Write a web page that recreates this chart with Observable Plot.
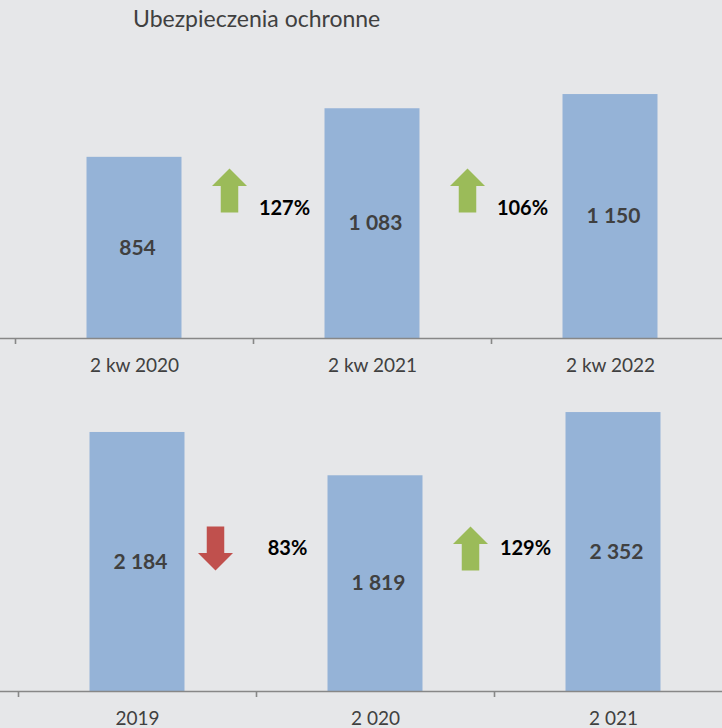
<!DOCTYPE html>
<html>
<head>
<meta charset="utf-8">
<script src="https://cdn.jsdelivr.net/npm/d3@7"></script>
<script src="https://cdn.jsdelivr.net/npm/@observablehq/plot@0.6"></script>
<style>
html, body { margin: 0; padding: 0; background: #e6e7e9; }
#wrap { position: relative; width: 722px; height: 728px; overflow: hidden; background: #e6e7e9; font-family: Lato, "Noto Sans", sans-serif; }
#title { position: absolute; left: 133px; top: 7px; font-size: 23px; line-height: 23px; color: #404040; white-space: nowrap; }
#p1 { position: absolute; left: 0; top: 40px; }
#p2 { position: absolute; left: 0; top: 385px; }
</style>
</head>
<body>
<div id="wrap">
  <div id="title"></div>
  <div id="p1"></div>
  <div id="p2"></div>
</div>
<script>
const chartTitle = "Ubezpieczenia ochronne";

const quarterLabels = ["2 kw 2020", "2 kw 2021", "2 kw 2022"];
const quarterValues = [854, 1083, 1150];
const quarterChange = [127, 106];

const yearLabels = ["2019", "2 020", "2 021"];
const yearValues = [2184, 1819, 2352];
const yearChange = [83, 129];

document.getElementById("title").textContent = chartTitle;

const fmt = d3.formatLocale({thousands: " ", grouping: [3], decimal: ",", currency: ["", ""]}).format(",d");

function arrowSymbol(dir) {
  // dir = -1 for up, 1 for down
  return {
    draw(c) {
      const H = 22, h = 17.5, W = 17.5, w = 8.75;
      const s = dir;
      c.moveTo(0, s * H);
      c.lineTo(W, s * (H - h));
      c.lineTo(w, s * (H - h));
      c.lineTo(w, -s * H);
      c.lineTo(-w, -s * H);
      c.lineTo(-w, s * (H - h));
      c.lineTo(-W, s * (H - h));
      c.closePath();
    }
  };
}

function panel({labels, values, changes, yMax, height, marginTop, marginBottom, xRange, arrowY, textY}) {
  const bars = labels.map((label, i) => ({label, value: values[i]}));
  const notes = changes.map((pct, i) => ({label: labels[i], pct, up: pct >= 100}));
  const step = (xRange[1] - xRange[0]) / labels.length;
  return Plot.plot({
    width: 722,
    height,
    marginTop,
    marginBottom,
    marginLeft: 0,
    marginRight: 0,
    style: {background: "transparent", fontFamily: "Lato, 'Noto Sans', sans-serif", overflow: "visible"},
    x: {domain: labels, range: xRange, padding: 0},
    y: {domain: [0, yMax], axis: null},
    marks: [
      Plot.barY(bars, {x: "label", y: "value", fill: "#95b3d7", insetLeft: (step - 95) / 2, insetRight: (step - 95) / 2}),
      Plot.ruleY([0], {stroke: "#878787", strokeWidth: 1.6}),
      Plot.ruleX(labels, {x: d => d, dx: -step / 2, y1: 0, y2: 0, insetBottom: -6, stroke: "#878787", strokeWidth: 1.6}),
      Plot.axisX({tickSize: 0, tickPadding: 20, fontSize: 19, fill: "#404040", label: null}),
      Plot.text(bars, {x: "label", y: d => d.value / 2, text: d => fmt(d.value), fontSize: 21, fontWeight: "bold", fill: "#404040", dx: 3}),
      Plot.dot(notes.filter(d => d.up), {x: "label", y: arrowY, symbol: arrowSymbol(-1), r: 1, fill: "#9bbb59", stroke: "none", dx: 95}),
      Plot.dot(notes.filter(d => !d.up), {x: "label", y: arrowY, symbol: arrowSymbol(1), r: 1, fill: "#c0504d", stroke: "none", dx: 78}),
      Plot.text(notes, {x: "label", y: textY, text: d => d.pct + "%", fontSize: 20, fontWeight: "bold", fill: "#000000", dx: 150})
    ]
  });
}

document.getElementById("p1").append(panel({
  labels: quarterLabels, values: quarterValues, changes: quarterChange,
  yMax: 1400, height: 345, marginTop: 1, marginBottom: 47,
  xRange: [15.2, 729.2], arrowY: 698, textY: 610
}));

document.getElementById("p2").append(panel({
  labels: yearLabels, values: yearValues, changes: yearChange,
  yMax: 2500, height: 343, marginTop: 9.5, marginBottom: 37,
  xRange: [17.8, 731.8], arrowY: 1206, textY: 1203
}));
</script>
</body>
</html>
